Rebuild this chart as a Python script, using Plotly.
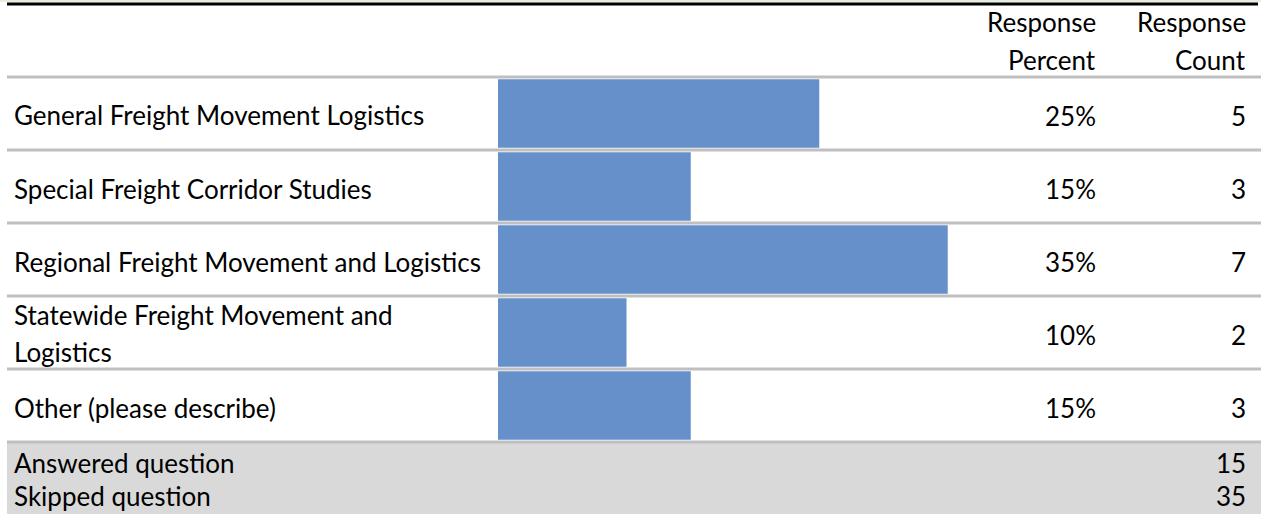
import plotly.graph_objects as go

# Survey results
categories = [
    "General Freight Movement Logistics",
    "Special Freight Corridor Studies",
    "Regional Freight Movement and Logistics",
    "Statewide Freight Movement and Logistics",
    "Other (please describe)",
]
label_lines = [
    ["General Freight Movement Logistics"],
    ["Special Freight Corridor Studies"],
    ["Regional Freight Movement and Logistics"],
    ["Statewide Freight Movement and", "Logistics"],
    ["Other (please describe)"],
]
percents = [25, 15, 35, 10, 15]
counts = [5, 3, 7, 2, 3]
answered = 15
skipped = 35

W, H = 1261, 514
FONT = "Lato"
FS = 26
TXT = "#000000"
BAR = "#6590c9"
RULE = "#bfbfbf"


def px(x):
    return x / W


def py(y):
    return 1 - y / H


table_top, table_bottom = 77, 442
bar_left = 498
px_per_pct = 12.85

fig = go.Figure()
fig.add_trace(go.Bar(
    y=categories,
    x=percents,
    orientation="h",
    marker=dict(color=BAR, line=dict(width=0)),
    hoverinfo="skip",
))

annotations = []
# Header
for xr, l1, l2 in [(1098, "Response", "Percent"), (1248, "Response", "Count")]:
    annotations.append(dict(x=px(xr), y=py(22), xref="paper", yref="paper", text=l1,
                            xanchor="right", yanchor="middle", showarrow=False))
    annotations.append(dict(x=px(xr), y=py(60), xref="paper", yref="paper", text=l2,
                            xanchor="right", yanchor="middle", showarrow=False))

row_h = (table_bottom - table_top) / len(categories)
for i, (cat, lines, p, c) in enumerate(zip(categories, label_lines, percents, counts)):
    yc = table_top + row_h * (i + 0.5) + 2
    if len(lines) == 1:
        annotations.append(dict(x=px(12), y=py(yc), xref="paper", yref="paper", text=lines[0],
                                xanchor="left", yanchor="middle", showarrow=False))
    else:
        annotations.append(dict(x=px(12), y=py(yc - 20), xref="paper", yref="paper", text=lines[0],
                                xanchor="left", yanchor="middle", showarrow=False))
        annotations.append(dict(x=px(12), y=py(yc + 17), xref="paper", yref="paper", text=lines[1],
                                xanchor="left", yanchor="middle", showarrow=False))
    annotations.append(dict(x=px(1098), y=cat, xref="paper", yref="y", text=f"{p}%",
                            xanchor="right", yanchor="middle", showarrow=False, yshift=-2))
    annotations.append(dict(x=px(1248), y=cat, xref="paper", yref="y", text=str(c),
                            xanchor="right", yanchor="middle", showarrow=False, yshift=-2))

# Summary rows
for yy, lab, val in [(463, "Answered question", answered), (496, "Skipped question", skipped)]:
    annotations.append(dict(x=px(12), y=py(yy), xref="paper", yref="paper", text=lab,
                            xanchor="left", yanchor="middle", showarrow=False))
    annotations.append(dict(x=px(1248), y=py(yy), xref="paper", yref="paper", text=str(val),
                            xanchor="right", yanchor="middle", showarrow=False))

shapes = [
    # faint strip and heavy rule at the top
    dict(type="rect", xref="paper", yref="paper", x0=0, x1=1, y0=py(0), y1=py(2),
         fillcolor="#e6ecdf", line=dict(width=0), layer="below"),
    dict(type="line", xref="paper", yref="paper", x0=px(7), x1=px(1258), y0=py(4), y1=py(4),
         line=dict(color="#000000", width=3)),
    # summary band
    dict(type="rect", xref="paper", yref="paper", x0=px(7), x1=1, y0=py(442), y1=0,
         fillcolor="#d9d9d9", line=dict(width=0), layer="below"),
]
for k in range(len(categories) + 1):
    yy = table_top + row_h * k
    shapes.append(dict(type="line", xref="paper", yref="paper", x0=px(7), x1=1,
                       y0=py(yy), y1=py(yy), line=dict(color=RULE, width=3), layer="below"))

fig.update_layout(
    width=W, height=H,
    margin=dict(l=0, r=0, t=0, b=0),
    paper_bgcolor="white", plot_bgcolor="rgba(0,0,0,0)",
    showlegend=False,
    bargap=0.06,
    font=dict(family=FONT, size=FS, color=TXT),
    xaxis=dict(domain=[px(bar_left), 1], range=[0, (W - bar_left) / px_per_pct],
               visible=False, fixedrange=True),
    yaxis=dict(domain=[py(table_bottom), py(table_top)], autorange="reversed",
               categoryorder="array", categoryarray=categories,
               visible=False, fixedrange=True),
    annotations=annotations,
    shapes=shapes,
)

fig.write_html("out.html")
